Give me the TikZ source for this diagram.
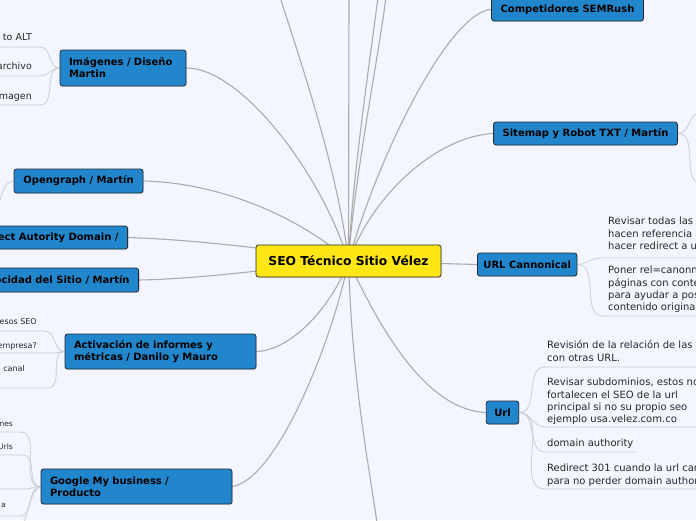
\documentclass[tikz,border=0pt]{standalone}
\usepackage{fontspec}
\setmainfont{DejaVu Sans}
\usetikzlibrary{backgrounds,shadows}
\definecolor{bgc}{RGB}{243,246,254}
\definecolor{nodeblue}{RGB}{34,134,204}
\definecolor{rootyellow}{RGB}{255,230,20}
\definecolor{edgec}{RGB}{38,42,50}
\definecolor{linkc}{RGB}{172,172,172}
\definecolor{sublinkc}{RGB}{206,208,214}
\definecolor{txtc}{RGB}{40,40,40}
\tikzset{
  topic/.style={fill=nodeblue, draw=edgec, line width=0.8pt, rounded corners=2.5pt,
    font=\fontsize{10}{12}\selectfont\bfseries, inner xsep=9pt, inner ysep=0pt,
    align=left, text=black,
    drop shadow={shadow xshift=0.7pt, shadow yshift=-0.7pt, opacity=0.3}},
  root/.style={topic, fill=rootyellow, font=\fontsize{12.3}{14}\selectfont\bfseries, align=center},
  mainlink/.style={draw=linkc, line width=1.1pt},
  sublink/.style={draw=sublinkc, line width=0.9pt},
  itemtxt/.style={inner sep=0pt, align=left, font=\fontsize{10}{12.3}\selectfont, text=txtc},
  litemA/.style={inner sep=0pt, font=\fontsize{9.5}{11}\selectfont, text=txtc, anchor=base east},
  litemB/.style={inner sep=0pt, font=\fontsize{8}{10}\selectfont, text=txtc, anchor=base east},
  litemC/.style={inner sep=0pt, font=\fontsize{7.5}{9}\selectfont, text=txtc, anchor=base east},
}
\begin{document}
\begin{tikzpicture}[x=1pt,y=-1pt]
\useasboundingbox (0,0) rectangle (696,520);

% main topics
\node[root, minimum width=185pt, minimum height=32pt] (c) at (348.5,261) {SEO Técnico Sitio Vélez};
\node[topic, align=center, minimum width=149pt, minimum height=23pt] (comp) at (567.5,9.5) {Competidores SEMRush};
\node[topic, align=center, minimum width=183pt, minimum height=23pt] (sm) at (585.5,133.5) {Sitemap y Robot TXT / Martín};
\node[topic, align=center, inner xsep=6pt, minimum height=23pt, anchor=west] (uc) at (477,264.5) {URL Cannonical};
\node[topic, inner xsep=8pt, minimum height=23pt] (url) at (502.5,412.5) {Url};
\node[topic, text width=108pt, minimum height=36pt] (img) at (123,68) {Imágenes / Diseño\\Martin};
\node[topic, align=center, minimum width=129pt, minimum height=24pt] (og) at (78.5,181) {Opengraph / Martín};
\node[topic, minimum height=23pt, anchor=east] (rd) at (128,237.5) {Redirect Autority Domain /};
\node[topic, minimum height=24pt, anchor=east] (vel) at (139,280) {Velocidad del Sitio / Martín};
\node[topic, text width=173pt, minimum height=35pt] (act) at (160.5,351.5) {Activación de informes y\\métricas / Danilo y Mauro};
\node[topic, text width=173pt, minimum height=35pt] (gmb) at (136.5,486.5) {Google My business /\\Producto};

% right items
\node[itemtxt, anchor=north west] (uc1) at (608,216.1) {\strut Revisar todas las\\hacen referencia\\hacer redirect a u};
\node[itemtxt, anchor=north west] (uc2) at (608,265.1) {\strut Poner rel=canonn\\páginas con conte\\para ayudar a pos\\contenido origina};
\node[itemtxt, anchor=north west] (ur1) at (547,340.1) {\strut Revisión de la relación de las\\con otras URL.};
\node[itemtxt, anchor=north west] (ur2) at (547,377.1) {\strut Revisar subdominios, estos no\\fortalecen el SEO de la url\\principal si no su propio seo\\ejemplo usa.velez.com.co};
\node[itemtxt, anchor=north west] (ur3) at (547,438.1) {\strut domain authority};
\node[itemtxt, anchor=north west] (ur4) at (547,463.1) {\strut Redirect 301 cuando la url cambie\\para no perder domain authority};

% left items
\node[litemA] (i1) at (32,40.6) {to ALT};
\node[litemA] (i2) at (32,69.6) {archivo};
\node[litemA] (i3) at (32,99.6) {magen};
\node[litemB] (a1) at (37,324.2) {esos SEO};
\node[litemB] (a2) at (37,348.2) {empresa?};
\node[litemB] (a3) at (25,371.2) {canal};
\node[litemC] (g1) at (13,426) {nes};
\node[litemC] (g2) at (13,449) {Urls};
\node[litemC] (g4) at (6,507) {a};

% coordinates
\coordinate (t1) at (280,-3);
\coordinate (t2) at (349,-3);
\coordinate (t3) at (378,-3);
\coordinate (t4) at (386,-3);
\coordinate (bt) at (377,523);
\coordinate (uc1a) at (600,258); \coordinate (uc1b) at (700,258);
\coordinate (uc2a) at (603,316); \coordinate (uc2b) at (700,316);
\coordinate (ur1a) at (545,367); \coordinate (ur1b) at (700,367);
\coordinate (ur2a) at (545,427); \coordinate (ur2b) at (700,427);
\coordinate (ur3a) at (545,452); \coordinate (ur3b) at (637,452);
\coordinate (ur4a) at (545,489); \coordinate (ur4b) at (700,489);
\coordinate (sm1) at (701,112);
\coordinate (sm2) at (702,184);
\coordinate (i1a) at (40,47); \coordinate (i1b) at (-5,47);
\coordinate (i2a) at (40,76); \coordinate (i2b) at (-5,76);
\coordinate (i3a) at (40,105); \coordinate (i3b) at (-5,105);
\coordinate (ogx) at (-3,212);
\coordinate (a1a) at (45,331); \coordinate (a1b) at (-5,331);
\coordinate (a2a) at (55,353); \coordinate (a2b) at (-5,353);
\coordinate (a3a) at (48,388); \coordinate (a3b) at (-5,388);
\coordinate (g1a) at (20,432); \coordinate (g1b) at (-5,432);
\coordinate (g2a) at (23,455); \coordinate (g2b) at (-5,455);
\coordinate (g3a) at (25,489); \coordinate (g3b) at (-5,489);
\coordinate (g4a) at (20,516); \coordinate (g4b) at (-5,516);
\coordinate (g5) at (18,545);

\begin{scope}[on background layer]
\fill[bgc] (0,0) rectangle (696,520);
% main links
\draw[mainlink] (c.center) .. controls (338,170) and (300,60) .. (t1);
\draw[mainlink] (c.center) -- (t2);
\draw[mainlink] (c.center) .. controls (352,180) and (370,60) .. (t3);
\draw[mainlink] (c.center) .. controls (354,180) and (378,60) .. (t4);
\draw[mainlink] (comp.west) .. controls (450,12) and (380,150) .. (c.center);
\draw[mainlink] (sm.west) .. controls (440,136) and (375,190) .. (c.center);
\draw[mainlink] (img.east) .. controls (240,68) and (320,170) .. (c.center);
\draw[mainlink] (og.east) .. controls (230,183) and (310,225) .. (c.center);
\draw[mainlink] (rd.east) .. controls (200,240) and (280,250) .. (c.center);
\draw[mainlink] (vel.east) .. controls (200,279) and (280,268) .. (c.center);
\draw[mainlink] (act.east) .. controls (295,350) and (335,300) .. (c.center);
\draw[mainlink] (gmb.east) .. controls (275,480) and (330,350) .. (c.center);
\draw[mainlink] (c.center) .. controls (352,380) and (368,460) .. (bt);
\draw[mainlink] (c.center) .. controls (385,340) and (430,410) .. (url.west);
\draw[mainlink] (c.center) -- (uc.west);
% sub links right
\draw[sublink] (uc.east) to[out=0,in=180] (uc1a) -- (uc1b);
\draw[sublink] (uc.east) to[out=0,in=180] (uc2a) -- (uc2b);
\draw[sublink] (url.east) to[out=0,in=180] (ur1a) -- (ur1b);
\draw[sublink] (url.east) to[out=0,in=180] (ur2a) -- (ur2b);
\draw[sublink] (url.east) to[out=0,in=180] (ur3a) -- (ur3b);
\draw[sublink] (url.east) to[out=0,in=180] (ur4a) -- (ur4b);
\draw[sublink] (sm.east) to[out=0,in=180] (sm1);
\draw[sublink] (sm.east) to[out=0,in=180] (sm2);
% sub links left
\draw[sublink] (img.west) to[out=180,in=0] (i1a) -- (i1b);
\draw[sublink] (img.west) to[out=180,in=0] (i2a) -- (i2b);
\draw[sublink] (img.west) to[out=180,in=0] (i3a) -- (i3b);
\draw[sublink] (og.west) .. controls (4,181) and (1,196) .. (ogx);
\draw[sublink] (act.west) to[out=180,in=0] (a1a) -- (a1b);
\draw[sublink] (act.west) to[out=180,in=0] (a2a) -- (a2b);
\draw[sublink] (act.west) to[out=180,in=0] (a3a) -- (a3b);
\draw[sublink] (gmb.west) to[out=180,in=0] (g1a) -- (g1b);
\draw[sublink] (gmb.west) to[out=180,in=0] (g2a) -- (g2b);
\draw[sublink] (gmb.west) to[out=180,in=0] (g3a) -- (g3b);
\draw[sublink] (gmb.west) to[out=180,in=0] (g4a) -- (g4b);
\draw[sublink] (gmb.west) .. controls (30,490) and (26,520) .. (g5);
\end{scope}
\end{tikzpicture}
\end{document}
